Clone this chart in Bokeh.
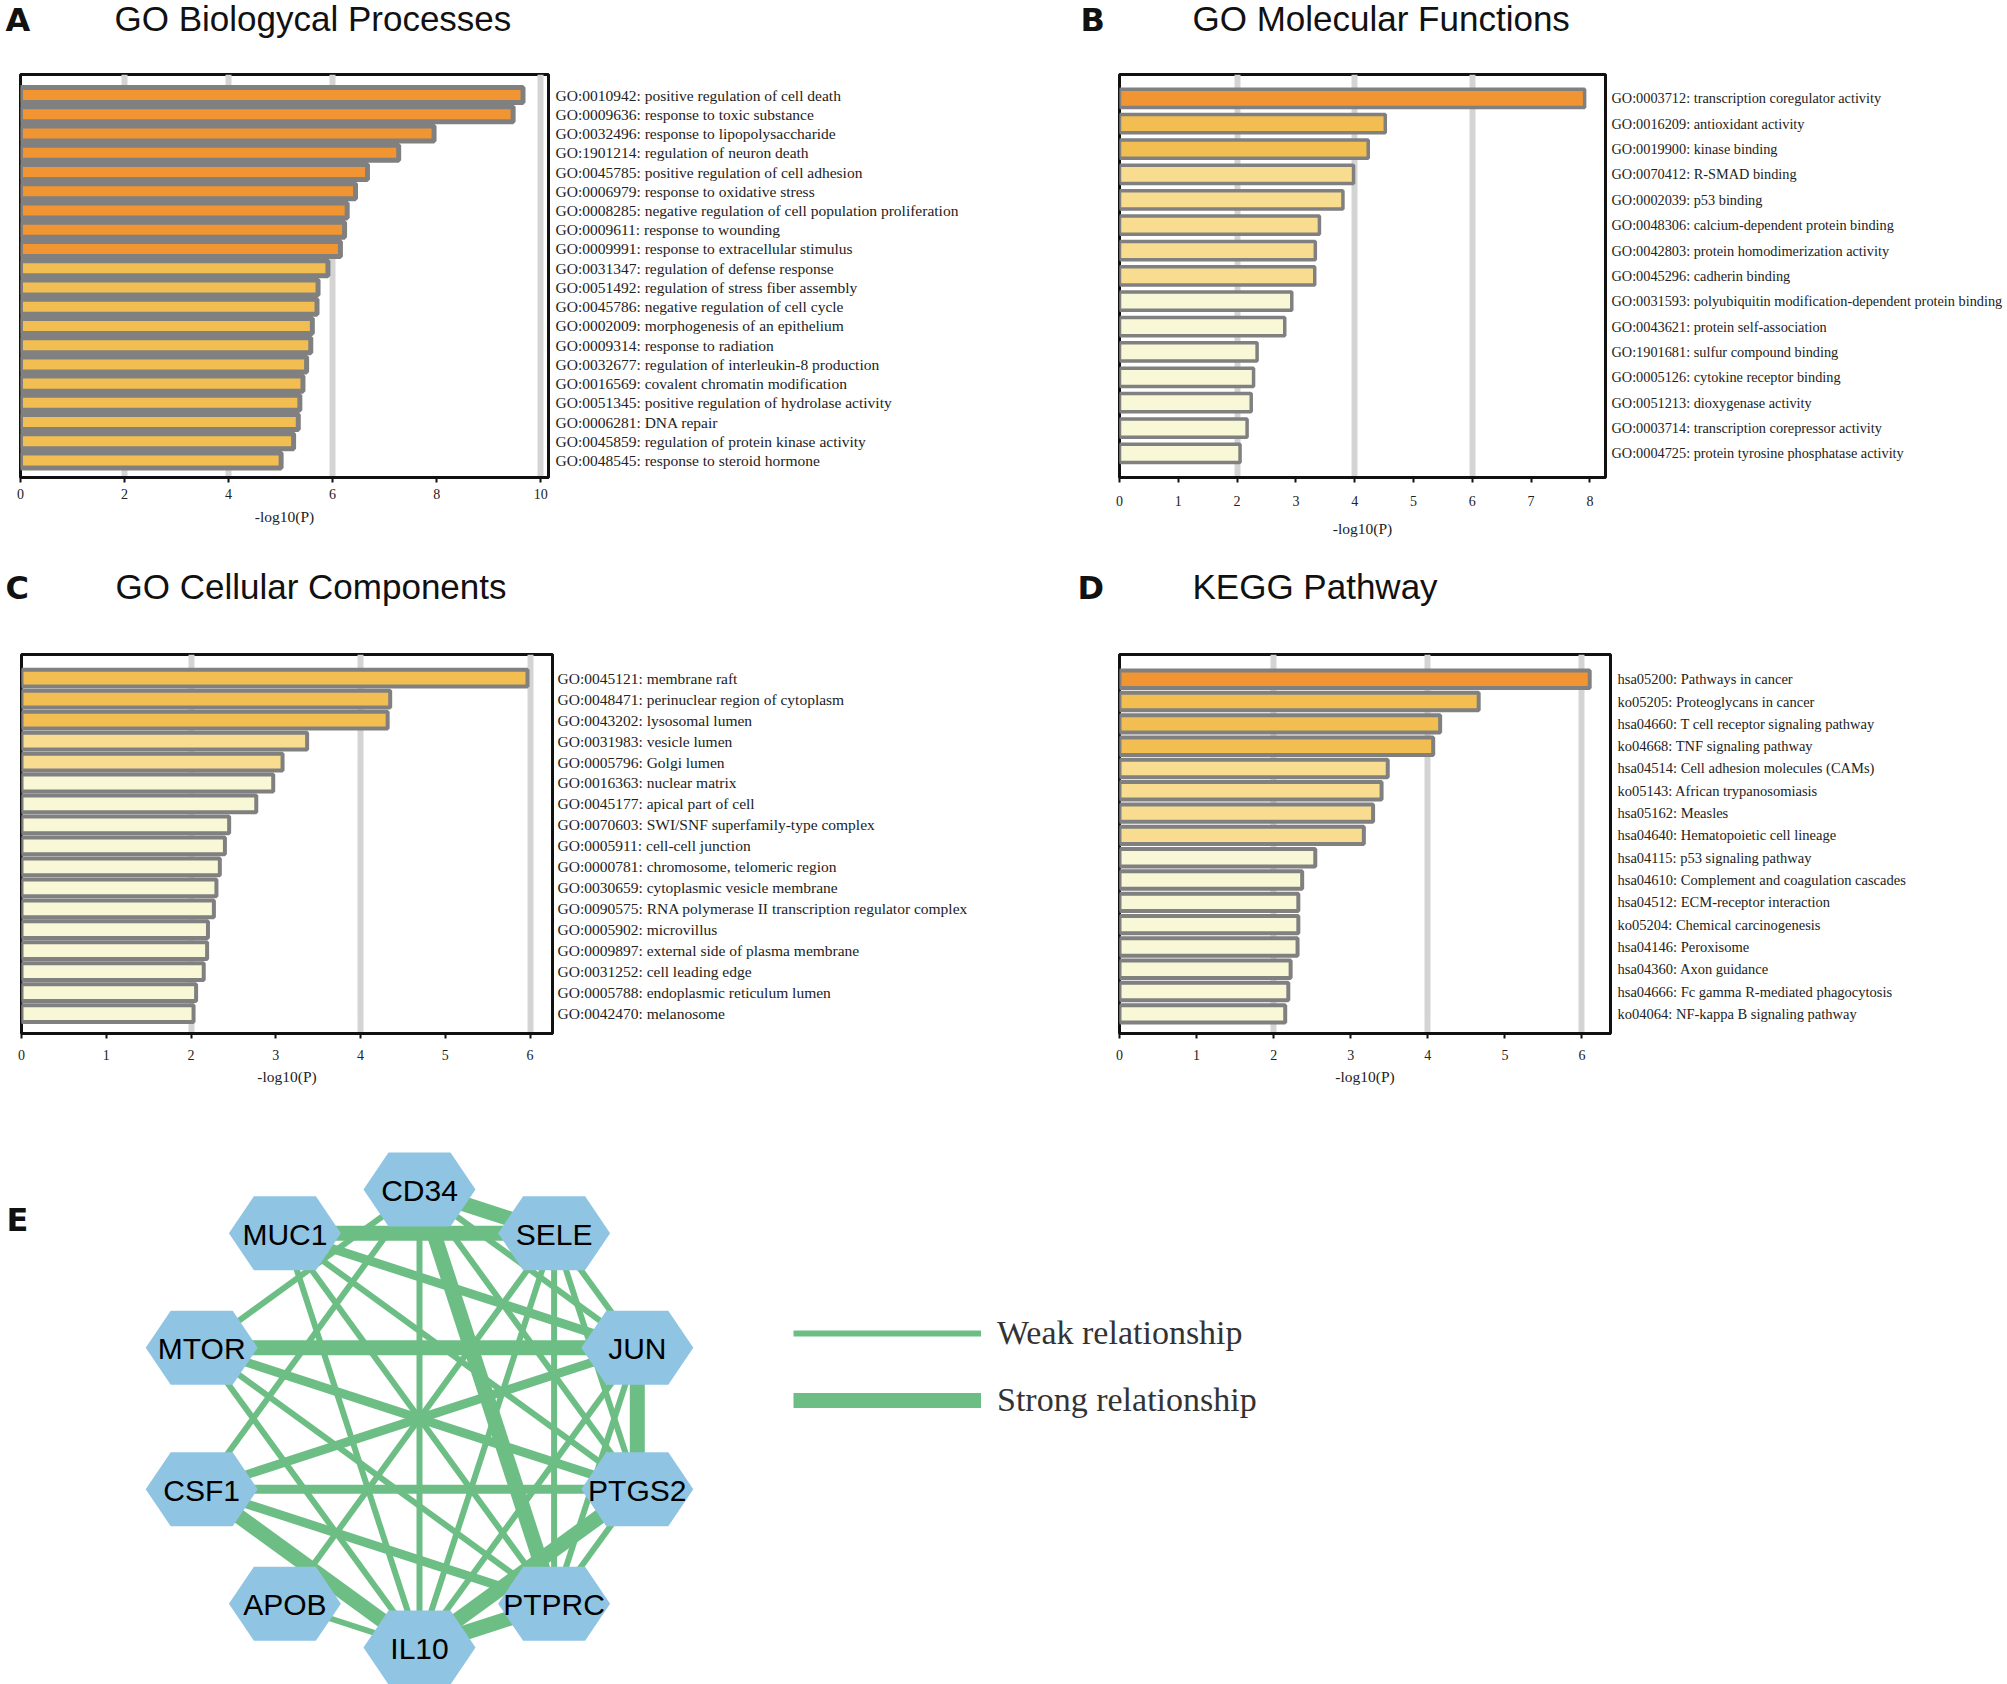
import numpy as np
from bokeh.plotting import figure
from bokeh.models import Range1d, FixedTicker, ColumnDataSource, Legend, LegendItem
from bokeh.layouts import column, row
from bokeh.embed import file_html
from bokeh.resources import INLINE
from bokeh.core.properties import value

# ---------------- data ----------------
bp_terms = [
    "GO:0010942: positive regulation of cell death",
    "GO:0009636: response to toxic substance",
    "GO:0032496: response to lipopolysaccharide",
    "GO:1901214: regulation of neuron death",
    "GO:0045785: positive regulation of cell adhesion",
    "GO:0006979: response to oxidative stress",
    "GO:0008285: negative regulation of cell population proliferation",
    "GO:0009611: response to wounding",
    "GO:0009991: response to extracellular stimulus",
    "GO:0031347: regulation of defense response",
    "GO:0051492: regulation of stress fiber assembly",
    "GO:0045786: negative regulation of cell cycle",
    "GO:0002009: morphogenesis of an epithelium",
    "GO:0009314: response to radiation",
    "GO:0032677: regulation of interleukin-8 production",
    "GO:0016569: covalent chromatin modification",
    "GO:0051345: positive regulation of hydrolase activity",
    "GO:0006281: DNA repair",
    "GO:0045859: regulation of protein kinase activity",
    "GO:0048545: response to steroid hormone",
]
bp_values = [9.66, 9.47, 7.95, 7.27, 6.67, 6.44, 6.28, 6.23, 6.15, 5.91,
             5.72, 5.70, 5.61, 5.58, 5.50, 5.43, 5.37, 5.34, 5.25, 5.01]

mf_terms = [
    "GO:0003712: transcription coregulator activity",
    "GO:0016209: antioxidant activity",
    "GO:0019900: kinase binding",
    "GO:0070412: R-SMAD binding",
    "GO:0002039: p53 binding",
    "GO:0048306: calcium-dependent protein binding",
    "GO:0042803: protein homodimerization activity",
    "GO:0045296: cadherin binding",
    "GO:0031593: polyubiquitin modification-dependent protein binding",
    "GO:0043621: protein self-association",
    "GO:1901681: sulfur compound binding",
    "GO:0005126: cytokine receptor binding",
    "GO:0051213: dioxygenase activity",
    "GO:0003714: transcription corepressor activity",
    "GO:0004725: protein tyrosine phosphatase activity",
]
mf_values = [7.91, 4.52, 4.23, 3.98, 3.80, 3.40, 3.33, 3.32, 2.93, 2.81,
             2.34, 2.28, 2.24, 2.17, 2.05]

cc_terms = [
    "GO:0045121: membrane raft",
    "GO:0048471: perinuclear region of cytoplasm",
    "GO:0043202: lysosomal lumen",
    "GO:0031983: vesicle lumen",
    "GO:0005796: Golgi lumen",
    "GO:0016363: nuclear matrix",
    "GO:0045177: apical part of cell",
    "GO:0070603: SWI/SNF superfamily-type complex",
    "GO:0005911: cell-cell junction",
    "GO:0000781: chromosome, telomeric region",
    "GO:0030659: cytoplasmic vesicle membrane",
    "GO:0090575: RNA polymerase II transcription regulator complex",
    "GO:0005902: microvillus",
    "GO:0009897: external side of plasma membrane",
    "GO:0031252: cell leading edge",
    "GO:0005788: endoplasmic reticulum lumen",
    "GO:0042470: melanosome",
]
cc_values = [5.97, 4.35, 4.32, 3.37, 3.08, 2.97, 2.77, 2.45, 2.40, 2.34,
             2.30, 2.27, 2.20, 2.19, 2.15, 2.06, 2.03]

kegg_terms = [
    "hsa05200: Pathways in cancer",
    "ko05205: Proteoglycans in cancer",
    "hsa04660: T cell receptor signaling pathway",
    "ko04668: TNF signaling pathway",
    "hsa04514: Cell adhesion molecules (CAMs)",
    "ko05143: African trypanosomiasis",
    "hsa05162: Measles",
    "hsa04640: Hematopoietic cell lineage",
    "hsa04115: p53 signaling pathway",
    "hsa04610: Complement and coagulation cascades",
    "hsa04512: ECM-receptor interaction",
    "ko05204: Chemical carcinogenesis",
    "hsa04146: Peroxisome",
    "hsa04360: Axon guidance",
    "hsa04666: Fc gamma R-mediated phagocytosis",
    "ko04064: NF-kappa B signaling pathway",
]
kegg_values = [6.10, 4.66, 4.16, 4.07, 3.48, 3.40, 3.29, 3.17, 2.54, 2.37,
               2.32, 2.32, 2.31, 2.22, 2.19, 2.15]

panel_letters = ["A", "B", "C", "D", "E"]
panel_titles = ["GO Biologycal Processes", "GO Molecular Functions",
                "GO Cellular Components", "KEGG Pathway"]

# network (genes in clockwise circle order starting at the top)
genes = ["CD34", "SELE", "JUN", "PTGS2", "PTPRC", "IL10", "APOB", "CSF1", "MTOR", "MUC1"]
edge_source = ["MUC1", "CD34", "MTOR", "CD34", "CSF1", "IL10", "JUN", "IL10",
               "MUC1", "CSF1", "CSF1", "CSF1", "MTOR",
               "MTOR", "MTOR", "MTOR", "CSF1", "CD34", "CD34", "CD34",
               "MUC1", "MUC1", "MUC1", "SELE", "SELE", "SELE", "SELE", "SELE",
               "APOB", "JUN", "JUN", "PTGS2"]
edge_target = ["SELE", "SELE", "JUN", "PTPRC", "IL10", "PTPRC", "PTGS2", "PTGS2",
               "JUN", "JUN", "PTGS2", "PTPRC", "PTGS2",
               "PTPRC", "IL10", "CD34", "CD34", "IL10", "JUN", "PTGS2",
               "IL10", "PTPRC", "PTGS2", "JUN", "PTGS2", "PTPRC", "IL10", "APOB",
               "IL10", "PTPRC", "IL10", "PTPRC"]
edge_strength = ["strong"] * 8 + ["medium"] * 5 + ["weak"] * 19
legend_labels = ["Weak relationship", "Strong relationship"]

# ---------------- styles ----------------
SERIF = "Liberation Serif"
SANS = "Liberation Sans"
LETTER_FONT = "DejaVu Sans"
GRAY = "#808080"
W = 2007


def tier_color(v):
    if v >= 6:
        return "#F19532"
    if v >= 4:
        return "#F2BE52"
    if v >= 3:
        return "#F8DC90"
    return "#F8F7D6"


def blank_fig(w, h, x0, y0):
    """figure whose data units are page pixels (y downward)."""
    p = figure(width=w, height=h, x_range=Range1d(x0, x0 + w), y_range=Range1d(y0 + h, y0),
               x_axis_location=None, y_axis_location=None, min_border=0,
               toolbar_location=None, tools="", output_backend="svg")
    p.outline_line_color = None
    p.grid.visible = False
    return p


def header(y0, h, letters, letter_x, letter_mid, titles, title_x, title_mid):
    p = blank_fig(W, h, 0, y0)
    p.text(x=letter_x, y=letter_mid, text=letters, text_font=value(LETTER_FONT),
           text_font_style="bold", text_font_size="32px", text_color="#111111",
           text_baseline="middle", text_align="left")
    p.text(x=title_x, y=title_mid, text=titles, text_font=value(SANS),
           text_font_size="35px", text_color="#111111",
           text_baseline="middle", text_align="left")
    return p


def bar_panel(terms, vals, cw, ch, bl, bt, fw, fh, x_end, pad_t, pad_b,
              bar_h, bar_lw, grid_ticks, x_ticks, lab_size, lab_standoff,
              tick_standoff, axlab_standoff):
    n = len(vals)
    p = figure(width=cw, height=ch,
               x_range=Range1d(0, x_end),
               y_range=Range1d(n - 1 + pad_b, -pad_t),
               y_axis_location="right",
               toolbar_location=None, tools="", output_backend="svg",
               min_border_left=bl, min_border_top=bt,
               min_border_right=cw - bl - fw, min_border_bottom=ch - bt - fh)
    src = ColumnDataSource(dict(y=list(range(n)), v=vals,
                                color=[tier_color(v) for v in vals]))
    p.hbar(y="y", left=0, right="v", height=bar_h, fill_color="color",
           line_color=GRAY, line_width=bar_lw, source=src)

    p.outline_line_color = "#111111"
    p.outline_line_width = 3

    p.xgrid.ticker = FixedTicker(ticks=grid_ticks)
    p.xgrid.grid_line_color = "#D4D4D4"
    p.xgrid.grid_line_width = 6
    p.ygrid.grid_line_color = None

    xa = p.xaxis[0]
    xa.ticker = FixedTicker(ticks=x_ticks)
    xa.axis_line_color = "#111111"
    xa.axis_line_width = 3
    xa.major_tick_out = 5
    xa.major_tick_in = 0
    xa.major_tick_line_width = 2
    xa.major_tick_line_color = "#111111"
    xa.minor_tick_line_color = None
    xa.major_label_text_font = SERIF
    xa.major_label_text_font_size = "14px"
    xa.major_label_text_color = "#222222"
    xa.major_label_standoff = tick_standoff
    xa.axis_label = "-log10(P)"
    xa.axis_label_text_font = SERIF
    xa.axis_label_text_font_size = "15.5px"
    xa.axis_label_text_font_style = "normal"
    xa.axis_label_text_color = "#222222"
    xa.axis_label_standoff = axlab_standoff

    ya = p.yaxis[0]
    ya.ticker = FixedTicker(ticks=list(range(n)))
    ya.major_label_overrides = {i: t for i, t in enumerate(terms)}
    ya.axis_line_color = None
    ya.major_tick_line_color = None
    ya.major_tick_out = 0
    ya.major_tick_in = 0
    ya.minor_tick_line_color = None
    ya.minor_tick_out = 0
    ya.minor_tick_in = 0
    ya.major_label_standoff = lab_standoff
    ya.major_label_text_font = SERIF
    ya.major_label_text_font_size = lab_size
    ya.major_label_text_color = "#222222"
    return p


# row 1 : y 0..60 header, 60..560 plots
h1 = header(0, 60, panel_letters[0:2], [5, 1080], [19, 19],
            panel_titles[0:2], [114, 1192], [18, 18])
pA = bar_panel(bp_terms, bp_values, 1000, 500, 20, 14, 528, 403, 10.15, 1.07, 0.88,
               0.78, 5, [2, 4, 6, 10], [0, 2, 4, 6, 8, 10], "15.5px", 7, 6, 6)
pB = bar_panel(mf_terms, mf_values, 1007, 500, 119, 14, 486, 406, 8.265, 0.94, 0.95,
               0.72, 3.5, [2, 4, 6], list(range(9)), "14.3px", 6, 13, 11)
# row 2 : y 560..625 header, 625..1100 plots
h2 = header(560, 65, panel_letters[2:4], [5, 1077], [587, 587],
            panel_titles[2:4], [115, 1192], [586, 586])
pC = bar_panel(cc_terms, cc_values, 1000, 475, 21, 28, 531, 384, 6.265, 1.13, 0.95,
               0.8, 4, [2, 4, 6], list(range(7)), "15.5px", 5, 11, 5)
pD = bar_panel(kegg_terms, kegg_values, 1007, 475, 119, 29, 491, 379, 6.37, 1.11, 0.88,
               0.78, 4, [2, 4, 6], list(range(7)), "14.5px", 7, 11, 5)

# ---------------- network panel (y 1100..1684) ----------------
pE = blank_fig(1300, 584, 0, 1100)

cx, cy, rad = 419, 1418, 229
theta = 2 * np.pi * np.arange(len(genes)) / len(genes)
gx = cx + rad * np.sin(theta)
gy = cy - rad * np.cos(theta)
pos = {g: (gx[i], gy[i]) for i, g in enumerate(genes)}

width_map = {"weak": 6, "medium": 9, "strong": 15}
order = sorted(range(len(edge_source)), key=lambda i: width_map[edge_strength[i]])
exs = [[pos[edge_source[i]][0], pos[edge_target[i]][0]] for i in order]
eys = [[pos[edge_source[i]][1], pos[edge_target[i]][1]] for i in order]
ews = [width_map[edge_strength[i]] for i in order]
esrc = ColumnDataSource(dict(xs=exs, ys=eys, w=ews))
er = pE.multi_line(xs="xs", ys="ys", line_width="w", line_color="#6DBE85", source=esrc)

hx = np.array([-56, -31, 31, 56, 31, -31])
hy = np.array([0, -37, -37, 0, 37, 37])
pE.patches(xs=[list(gx[i] + hx) for i in range(len(genes))],
           ys=[list(gy[i] + hy) for i in range(len(genes))],
           fill_color="#8FC4E2", line_color=None)
pE.text(x=list(gx), y=list(gy + 1), text=genes, text_font=value(SANS),
        text_font_size="30px", text_align="center", text_baseline="middle",
        text_color="#000000")

idx_weak = ews.index(width_map["weak"])
idx_strong = ews.index(width_map["strong"])
legend = Legend(items=[LegendItem(label=legend_labels[0], renderers=[er], index=idx_weak),
                       LegendItem(label=legend_labels[1], renderers=[er], index=idx_strong)],
                location=(793, 264), orientation="vertical",
                glyph_width=188, glyph_height=40, label_height=40, spacing=27,
                label_standoff=16, label_text_font=SERIF, label_text_font_size="34px",
                label_text_color="#333333", border_line_color=None,
                background_fill_alpha=0, padding=0, margin=0)
pE.add_layout(legend)

pE.text(x=[6], y=[1219], text=panel_letters[4:5], text_font=value(LETTER_FONT),
        text_font_style="bold", text_font_size="32px", text_color="#111111",
        text_baseline="middle", text_align="left")

layout = column(h1, row(pA, pB), h2, row(pC, pD), pE)
open("out.html", "w").write(file_html(layout, INLINE))
